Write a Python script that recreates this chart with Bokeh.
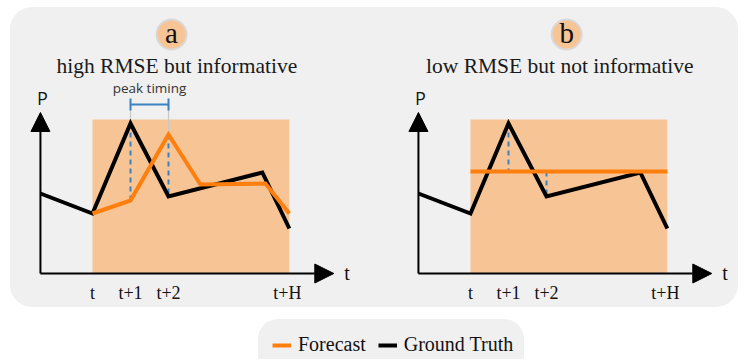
from bokeh.plotting import figure
from bokeh.models import Range1d, Arrow, NormalHead, Legend, LegendItem, Spacer
from bokeh.layouts import row, column
from bokeh.core.properties import value
from bokeh.embed import file_html
from bokeh.resources import INLINE

# ---------------- data ----------------
tick_labels = ["t", "t+1", "t+2", "t+H"]
tick_steps = [0, 1, 2, 5.13]
horizon = 5.18

gt_steps = [-1.37, 0, 1, 2, 4.47, 5.18]
gt_values = [8.0, 6.0, 15.0, 7.7, 10.1, 4.5]

fc_a_steps = [0, 1, 2, 2.84, 4.55, 5.18]
fc_a_values = [6.0, 7.3, 13.9, 8.9, 9.0, 6.0]

fc_b_steps = [0, 5.18]
fc_b_values = [10.2, 10.2]

# dashed error markers (step, from, to)
err_a_steps = [1, 2]
err_a_top = [15.0, 13.9]
err_a_bot = [7.3, 7.7]
err_b_steps = [1, 2]
err_b_top = [15.0, 10.2]
err_b_bot = [10.2, 7.7]

titles = ["high RMSE but informative", "low RMSE but not informative"]
letters = ["a", "b"]
legend_labels = ["Forecast", "Ground Truth"]

# ---------------- style ----------------
ORANGE = "#ff7f0e"
SHADE = "#f6c495"
BG = "#f0f0f0"
BLUE = "#3a82c2"
SERIF = "Liberation Serif"
SANS = "Open Sans"

H = 300
XS = 38.0   # px per step
YS = 10.0   # px per unit
OX = 82.0   # px of t from figure left
OY = 266.0  # px of P=0 from figure top
y_axis_step = -1.37
x_tip = 6.35
y_tip = 16.1


def make_panel(width, title, letter, fc_steps, fc_values, err_steps, err_top, err_bot,
               title_x, letter_x, peak=False):
    p = figure(width=width, height=H, output_backend="svg", toolbar_location=None,
               x_range=Range1d(-OX / XS, (width - OX) / XS),
               y_range=Range1d(-(H - OY) / YS, OY / YS),
               x_axis_type=None, y_axis_type=None, min_border=0,
               outline_line_color=None, border_fill_color=None,
               background_fill_color=None)
    # forecast horizon
    p.quad(left=[0], right=[horizon], bottom=[0], top=[15.4],
           fill_color=SHADE, line_color=None)
    # error markers
    p.segment(x0=err_steps, x1=err_steps, y0=err_top, y1=err_bot,
              line_color=BLUE, line_width=2, line_dash="5 4")
    if peak:
        p.segment(x0=[1, 2], x1=[1, 2], y0=[16.9, 16.9], y1=[15.2, 14.1],
                  line_color="#c8c8c8", line_width=1.2)
        p.segment(x0=[1], x1=[2], y0=[16.9], y1=[16.9], line_color=BLUE, line_width=2)
        p.segment(x0=[1, 2], x1=[1, 2], y0=[16.3, 16.3], y1=[17.5, 17.5],
                  line_color=BLUE, line_width=2)
        p.text(x=[1.5], y=[18.6], text=["peak timing"], text_font=value(SANS),
               text_font_size="13.5px", text_align="center", text_baseline="middle",
               text_color="#333333")
    # series
    p.line(gt_steps, gt_values, line_color="black", line_width=4, line_join="miter")
    p.line(fc_steps, fc_values, line_color=ORANGE, line_width=4, line_join="miter")
    # axes with arrows
    p.add_layout(Arrow(end=NormalHead(size=19, fill_color="black", line_color="black"),
                       x_start=y_axis_step, y_start=0, x_end=x_tip, y_end=0,
                       line_width=2, line_color="black"))
    p.add_layout(Arrow(end=NormalHead(size=19, fill_color="black", line_color="black"),
                       x_start=y_axis_step, y_start=0, x_end=y_axis_step, y_end=y_tip,
                       line_width=2, line_color="black"))
    p.text(x=tick_steps, y=[-1.9] * len(tick_steps), text=tick_labels,
           text_font=value(SERIF), text_font_size="18px", text_align="center",
           text_baseline="middle", text_color="#111111")
    p.text(x=[6.7], y=[0.1], text=["t"], text_font=value(SERIF), text_font_size="20px",
           text_align="center", text_baseline="middle", text_color="#111111")
    p.text(x=[-1.32], y=[17.6], text=["P"], text_font=value(SANS), text_font_size="18px",
           text_align="center", text_baseline="middle", text_color="#111111")
    # title and letter badge
    p.text(x=[title_x], y=[20.8], text=[title], text_font=value(SERIF),
           text_font_size="21.5px", text_align="center", text_baseline="middle",
           text_color="#1a1a1a")
    p.scatter(x=[letter_x], y=[23.9], size=30, marker="circle", fill_color=SHADE,
              line_color="#d9d9d9", line_width=2)
    p.text(x=[letter_x], y=[24.1], text=[letter], text_font=value(SERIF),
           text_font_size="29px", text_align="center", text_baseline="middle",
           text_color="#111111")
    return p


fig_a = make_panel(378, titles[0], letters[0], fc_a_steps, fc_a_values,
                   err_a_steps, err_a_top, err_a_bot, title_x=2.22, letter_x=2.08, peak=True)
fig_b = make_panel(350, titles[1], letters[1], fc_b_steps, fc_b_values,
                   err_b_steps, err_b_top, err_b_bot, title_x=2.35, letter_x=2.53)

top = row(fig_a, fig_b, styles={"background-color": BG, "border-radius": "22px"})

# legend
fig_leg = figure(width=266, height=40, output_backend="svg", toolbar_location=None,
                 x_range=Range1d(0, 1), y_range=Range1d(0, 1),
                 x_axis_type=None, y_axis_type=None, min_border=0,
                 outline_line_color=None, border_fill_color=None,
                 background_fill_color=None,
                 styles={"background-color": BG, "border-radius": "20px 20px 0 0"})
nan = float("nan")
r1 = fig_leg.line([nan, nan], [nan, nan], line_color=ORANGE, line_width=4)
r2 = fig_leg.line([nan, nan], [nan, nan], line_color="black", line_width=4)
leg = Legend(items=[LegendItem(label=legend_labels[0], renderers=[r1]),
                    LegendItem(label=legend_labels[1], renderers=[r2])],
             orientation="horizontal", location=(14, 3),
             label_text_font=SERIF, label_text_font_size="20px",
             label_text_color="#111111",
             glyph_width=19, glyph_height=20, label_standoff=7, spacing=12,
             padding=0, margin=0, background_fill_alpha=0, border_line_alpha=0)
fig_leg.add_layout(leg)

bottom = row(Spacer(width=248), fig_leg)
layout = column(top, bottom, spacing=12, margin=(7, 0, 0, 10))

open("out.html", "w").write(file_html(layout, INLINE))
